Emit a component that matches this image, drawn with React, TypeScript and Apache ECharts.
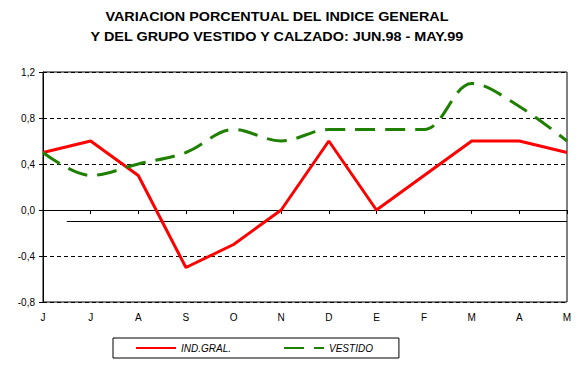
import React, { useEffect, useRef } from "react";
import * as echarts from "echarts";

const months = ["J", "J", "A", "S", "O", "N", "D", "E", "F", "M", "A", "M"];
const indGral = [0.5, 0.6, 0.3, -0.5, -0.3, 0.0, 0.6, 0.0, 0.3, 0.6, 0.6, 0.5];
const vestido = [0.5, 0.3, 0.4, 0.5, 0.7, 0.6, 0.7, 0.7, 0.7, 1.1, 0.9, 0.6];
const refLine = [
  [0.5, -0.1],
  [11, -0.1],
];
const titleLines = [
  "VARIACION PORCENTUAL DEL INDICE GENERAL",
  "Y DEL GRUPO VESTIDO Y CALZADO: JUN.98 - MAY.99",
];
const seriesNames = ["IND.GRAL.", "VESTIDO"];

const FONT = "Arial, 'Liberation Sans', sans-serif";

export default function App() {
  const ref = useRef<HTMLDivElement>(null);
  useEffect(() => {
    if (!ref.current) return;
    const chart = echarts.init(ref.current, undefined, { renderer: "svg" });
    chart.setOption({
      animation: false,
      backgroundColor: "#ffffff",
      textStyle: { fontFamily: FONT },
      graphic: [
        {
          type: "text",
          x: 277,
          y: 17,
          scaleX: 1.2,
          style: {
            text: titleLines[0],
            font: `bold 12px ${FONT}`,
            fill: "#000",
            textAlign: "center",
            textVerticalAlign: "middle",
          },
        },
        {
          type: "text",
          x: 277,
          y: 36.5,
          scaleX: 1.2,
          style: {
            text: titleLines[1],
            font: `bold 12px ${FONT}`,
            fill: "#000",
            textAlign: "center",
            textVerticalAlign: "middle",
          },
        },
      ],
      grid: {
        left: 43,
        top: 72,
        right: 20,
        bottom: 86,
        show: true,
        borderColor: "#000",
        borderWidth: 1,
        backgroundColor: "transparent",
      },
      legend: {
        data: seriesNames,
        left: 113,
        top: 338,
        orient: "horizontal",
        padding: [5, 26, 5, 22],
        itemGap: 52,
        itemWidth: 40,
        itemHeight: 10,
        borderColor: "#000",
        borderWidth: 1,
        itemStyle: {
          color: "rgba(0,0,0,0)",
          borderColor: "rgba(0,0,0,0)",
          borderWidth: 0,
          opacity: 0,
        },
        textStyle: {
          fontFamily: FONT,
          fontSize: 10,
          fontStyle: "italic",
          color: "#000",
        },
      },
      xAxis: [
        {
          type: "category",
          data: months,
          boundaryGap: false,
          axisLine: { show: true, lineStyle: { color: "#000", width: 1 } },
          axisTick: { show: true, length: 4, lineStyle: { color: "#000" } },
          axisLabel: { color: "#000", fontSize: 10, fontFamily: FONT, margin: 10 },
          splitLine: { show: false },
        },
        {
          type: "value",
          min: 0,
          max: 11,
          show: false,
        },
      ],
      yAxis: {
        type: "value",
        min: -0.8,
        max: 1.2,
        interval: 0.4,
        axisLine: { show: true, lineStyle: { color: "#000", width: 1 } },
        axisTick: { show: true, length: 4, lineStyle: { color: "#000" } },
        axisLabel: {
          color: "#000",
          fontSize: 10,
          fontFamily: FONT,
          margin: 8,
          formatter: (v: number) => v.toFixed(1).replace(".", ","),
        },
        splitLine: {
          show: true,
          lineStyle: { color: "#000", width: 1, type: [4, 3] },
        },
      },
      series: [
        {
          name: seriesNames[0],
          type: "line",
          data: indGral,
          symbol: "none",
          showSymbol: false,
          color: "#ff0000",
          lineStyle: { color: "#ff0000", width: 3 },
          z: 3,
        },
        {
          name: seriesNames[1],
          type: "line",
          data: vestido,
          symbol: "none",
          showSymbol: false,
          smooth: 0.35,
          color: "#1f8000",
          lineStyle: { color: "#1f8000", width: 3, type: [20, 10] },
          z: 4,
        },
        {
          name: "ref",
          type: "line",
          xAxisIndex: 1,
          data: refLine,
          symbol: "none",
          showSymbol: false,
          silent: true,
          color: "#000",
          lineStyle: { color: "#000", width: 1 },
          z: 2,
        },
      ],
    });
    return () => chart.dispose();
  }, []);
  return (
    <div
      ref={ref}
      style={{ position: "fixed", left: 0, top: 0, width: 587, height: 388, background: "#fff" }}
    />
  );
}
